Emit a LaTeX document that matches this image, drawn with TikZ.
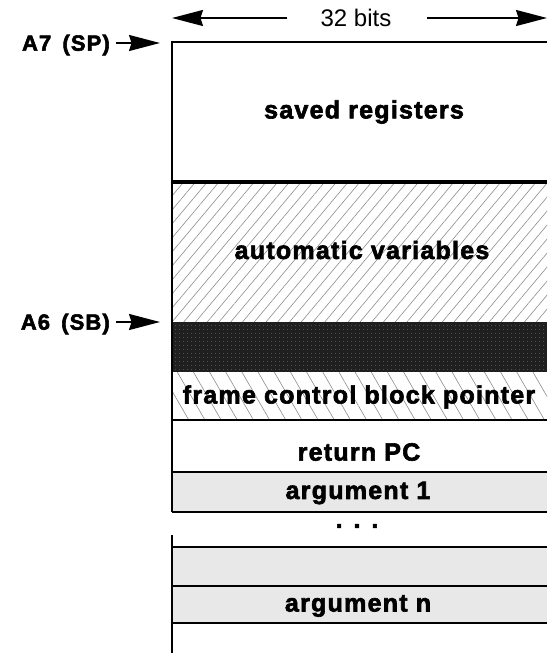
\documentclass[tikz,border=0pt]{standalone}
\usepackage{fontspec}
\setmainfont{Liberation Sans}
\newfontfamily\lblfont[LetterSpace=5, BoldFeatures={FakeBold=2.5}]{Liberation Sans}
\usetikzlibrary{arrows.meta,patterns.meta}
\begin{document}
\begin{tikzpicture}[x=1pt,y=-1pt,
  boxtext/.style={font=\lblfont\fontsize{25}{29}\selectfont\bfseries, inner sep=0pt},
  regtext/.style={font=\lblfont\fontsize{22}{26}\selectfont\bfseries, inner sep=0pt, anchor=east},
  dimtext/.style={font=\fontsize{24}{28}\selectfont, inner sep=0pt},
  frameline/.style={line width=2pt, black},
  bigarrow/.style={line width=1.8pt, -{Stealth[length=31pt,width=16pt,inset=2.5pt]}},
  autohatch/.style={pattern={Lines[angle=50,distance=9pt,line width=0.6pt]}, pattern color=black!45},
  fcbhatch/.style={pattern={Lines[angle=-60,distance=14pt,line width=0.6pt]}, pattern color=black!45},
  darkband/.style={fill=black!88},
  lightband/.style={fill=black!9}
]
\useasboundingbox (0,0) rectangle (547,653);

% fills
\fill[autohatch] (172,182) rectangle (547,322);
\fill[darkband] (172,322) rectangle (547,372);
\fill[pattern={Dots[distance=4pt,radius=0.5pt]}, pattern color=black!55] (172,322) rectangle (547,372);
\fill[fcbhatch] (172,372) rectangle (547,420);
\fill[lightband] (172,472) rectangle (547,512);
\fill[lightband] (172,547) rectangle (547,586);
\fill[lightband] (172,586) rectangle (547,623);

% frame lines
\draw[frameline] (547,42) -- (172,42) -- (172,512);
\draw[frameline] (172,535) -- (172,653);
\draw[line width=4pt] (172,182) -- (547,182);
\draw[frameline] (172,420) -- (547,420);
\draw[frameline] (172,472) -- (547,472);
\draw[frameline] (172,512) -- (547,512);
\draw[frameline] (172,547) -- (547,547);
\draw[frameline] (172,586) -- (547,586);
\draw[frameline] (172,623) -- (547,623);

% texts
\node[boxtext] (saved) at (364,112) {saved registers};
\node[boxtext] (auto) at (362,250) {automatic variables};
\node[boxtext] (fcb) at (359,397) {frame control block pointer};
\node[boxtext] (ret) at (359,452) {return PC};
\node[boxtext] (arg1) at (358,493) {argument 1};
\node[boxtext] (dots) at (357,526) {. . .};
\node[boxtext] (argn) at (358,606) {argument n};

% dimension arrow
\node[dimtext] (bits) at (356,18) {32 bits};
\coordinate (bitsL) at (172,18);
\coordinate (bitsR) at (547,18);
\draw[bigarrow] ([xshift=-33pt]bits.west) -- (bitsL);
\draw[bigarrow] ([xshift=35pt]bits.east) -- (bitsR);

% register pointers
\node[regtext] (a7) at (110,45) {A7\hspace{4pt} (SP)};
\coordinate (a7tip) at (160,43);
\draw[bigarrow] ([xshift=6pt]a7.east |- a7tip) -- (a7tip);
\node[regtext] (a6) at (110,324) {A6\hspace{4pt} (SB)};
\coordinate (a6tip) at (160,322);
\draw[bigarrow] ([xshift=6pt]a6.east |- a6tip) -- (a6tip);
\end{tikzpicture}
\end{document}
